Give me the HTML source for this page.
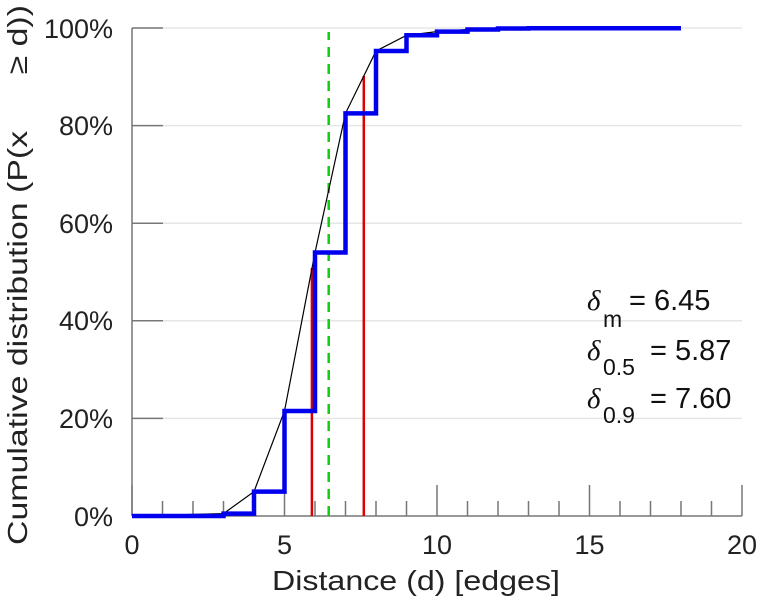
<!DOCTYPE html>
<html><head><meta charset="utf-8"><style>
body{margin:0;background:#fff;}
svg{display:block;font-family:"Liberation Sans",sans-serif;}
</style></head><body>
<svg width="759" height="600" viewBox="0 0 759 600">
<g stroke="#e6e6e6" stroke-width="1.5">
<line x1="132" y1="28" x2="742" y2="28"/>
<line x1="132" y1="125.6" x2="742" y2="125.6"/>
<line x1="132" y1="223.2" x2="742" y2="223.2"/>
<line x1="132" y1="320.8" x2="742" y2="320.8"/>
<line x1="132" y1="418.4" x2="742" y2="418.4"/>
</g>
<g stroke="#777" stroke-width="1.5" fill="none">
<line x1="132" y1="28" x2="132" y2="516"/>
<line x1="132" y1="516" x2="742" y2="516"/>
<line x1="742" y1="485" x2="742" y2="516"/>
<line x1="132" y1="28" x2="163" y2="28"/>
<line x1="132" y1="125.6" x2="163" y2="125.6"/>
<line x1="132" y1="223.2" x2="163" y2="223.2"/>
<line x1="132" y1="320.8" x2="163" y2="320.8"/>
<line x1="132" y1="418.4" x2="163" y2="418.4"/>
<path d="M162.5 516v-15M193 516v-15M223.5 516v-15M254 516v-15M284.5 516v-31M315 516v-15M345.5 516v-15M376 516v-15M406.5 516v-15M437 516v-31M467.5 516v-15M498 516v-15M528.5 516v-15M559 516v-15M589.5 516v-31M620 516v-15M650.5 516v-15M681 516v-15M711.5 516v-15M132 516v-31"/>
</g>
<g font-size="27" fill="#222" text-anchor="end">
<text x="113" y="38">100%</text>
<text x="113" y="135">80%</text>
<text x="113" y="233">60%</text>
<text x="113" y="330">40%</text>
<text x="113" y="428">20%</text>
<text x="113" y="526">0%</text>
</g>
<g font-size="27" fill="#222" text-anchor="middle">
<text x="132" y="554">0</text>
<text x="284.5" y="554">5</text>
<text x="437" y="554">10</text>
<text x="589.5" y="554">15</text>
<text x="742" y="554">20</text>
<text x="416" y="590" font-size="28" textLength="288" lengthAdjust="spacingAndGlyphs">Distance (d) [edges]</text>
</g>
<text transform="translate(27,275) rotate(-90)" font-size="28" fill="#222" text-anchor="middle" textLength="540" lengthAdjust="spacingAndGlyphs" xml:space="preserve">Cumulative distribution (P(x      ≥ d))</text>
<line x1="311.9" y1="516" x2="311.9" y2="268" stroke="#d00" stroke-width="2.5"/>
<line x1="363.8" y1="516" x2="363.8" y2="76" stroke="#d00" stroke-width="2.5"/>
<line x1="328.7" y1="516" x2="328.7" y2="32" stroke="#1c1" stroke-width="2.5" stroke-dasharray="10,7"/>
<polyline fill="none" stroke="#000" stroke-width="1.2" points="132,516 223.5,513.6 254,491.6 284.5,411 315,252.5 345.5,113.4 376,51 406.5,35.3 437,31.6 467.5,29.5 498,28.5 528.5,28.2 681,28"/>
<path fill="none" stroke="#0000ee" stroke-width="4.5" d="M132 516H223.5V513.6H254V491.6H284.5V411H315V252.5H345.5V113.4H376V51H406.5V35.3H437V31.6H467.5V29.5H498V28.5H528.5V28.2H681"/>
<g font-size="29" fill="#111">
<text x="587" y="310" font-style="italic" font-family="Liberation Serif">δ</text><text x="603" y="327" font-size="23">m</text><text x="629" y="310">= 6.45</text>
<text x="587" y="360" font-style="italic" font-family="Liberation Serif">δ</text><text x="603" y="375" font-size="23">0.5</text><text x="650" y="360">= 5.87</text>
<text x="587" y="408" font-style="italic" font-family="Liberation Serif">δ</text><text x="603" y="423" font-size="23">0.9</text><text x="650" y="408">= 7.60</text>
</g>
</svg>
</body></html>
